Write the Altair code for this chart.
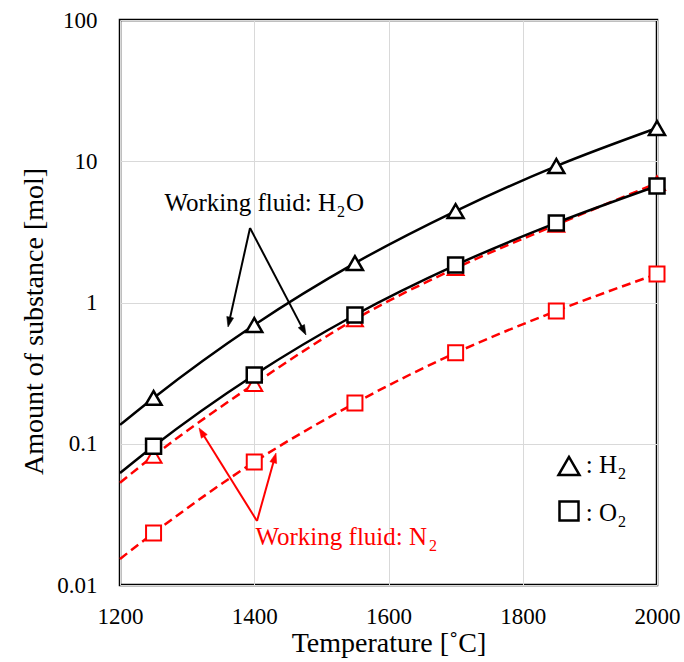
import math
import altair as alt
import pandas as pd

# ---------------- data ----------------
line_temps = [1200, 1250, 1400, 1550, 1700, 1850, 2000]
marker_temps = [1250, 1400, 1550, 1700, 1850, 2000]

h2o_h2 = [0.136, 0.211, 0.693, 1.90, 4.44, 9.25, 17.2]     # working fluid H2O, H2
h2o_o2 = [0.062, 0.096, 0.307, 0.816, 1.84, 3.66, 6.68]    # working fluid H2O, O2
n2_h2 = [0.053, 0.082, 0.265, 0.76, 1.75, 3.55, 7.0]       # working fluid N2, H2
n2_o2 = [0.0153, 0.0233, 0.0743, 0.194, 0.44, 0.871, 1.59]  # working fluid N2, O2

x_ticks = [1200, 1400, 1600, 1800, 2000]
y_ticks = [0.01, 0.1, 1, 10, 100]

# annotation arrows: apex -> tips (data coordinates)
black_apex = (1393.7, 3.37)
black_tips = [(1360.9, 0.671), (1477.1, 0.589)]
red_apex = (1404.1, 0.0284)
red_tips = [(1317.7, 0.1294), (1432.4, 0.086)]

RED = "#ff0000"
BLACK = "#000000"
FONT = "'Liberation Serif', 'Times New Roman', Tinos, 'DejaVu Serif', serif"
W, H = 537, 565
XDOM = [1200, 2000]
YDOM = [0.01, 100]


def X(field="T"):
    return alt.X(f"{field}:Q", scale=alt.Scale(domain=XDOM, nice=False, zero=False),
                 axis=alt.Axis(values=x_ticks, format="d", title="Temperature [˚C]", grid=True,
                               gridColor="#d9d9d9", gridWidth=1, ticks=False, tickSize=0,
                               domain=False, labelPadding=38, labelBaseline="alphabetic",
                               labelFlush=False, labelOverlap=False, titleY=58,
                               titleBaseline="middle", labelFont=FONT, titleFont=FONT))


def Y(field="v"):
    return alt.Y(f"{field}:Q", scale=alt.Scale(type="log", domain=YDOM, nice=False),
                 axis=alt.Axis(values=y_ticks, format="~g", title="Amount of substance [mol]",
                               grid=True, gridColor="#d9d9d9", gridWidth=1, ticks=False,
                               tickSize=0, domain=False, labelPadding=23,
                               labelBaseline="middle", labelFlush=False, labelOverlap=False,
                               titleX=-86, titleY=301, titleAlign="center",
                               titleBaseline="middle", labelFont=FONT, titleFont=FONT))


def line_df(vals, name):
    return pd.DataFrame({"T": line_temps, "v": vals, "series": name})


def marker_df(vals, name):
    return pd.DataFrame({"T": marker_temps, "v": vals[1:], "series": name})


red_lines = pd.concat([line_df(n2_h2, "N2-H2"), line_df(n2_o2, "N2-O2")])
black_lines = pd.concat([line_df(h2o_h2, "H2O-H2"), line_df(h2o_o2, "H2O-O2")])

red_line_layer = alt.Chart(red_lines).mark_line(
    color=RED, strokeWidth=2.5, strokeDash=[9, 5], interpolate="monotone"
).encode(x=X(), y=Y(), detail="series:N")

black_line_layer = alt.Chart(black_lines).mark_line(
    color=BLACK, strokeWidth=2.5, interpolate="monotone"
).encode(x=X(), y=Y(), detail="series:N")


def markers(vals, name, shape, size, color, sw):
    return alt.Chart(marker_df(vals, name)).mark_point(
        shape=shape, size=size, filled=True, fill="white", stroke=color,
        strokeWidth=sw, opacity=1
    ).encode(x=X(), y=Y())


red_tri = markers(n2_h2, "N2-H2", "triangle-up", 256, RED, 2)
red_sq = markers(n2_o2, "N2-O2", "square", 225, RED, 2)
black_tri = markers(h2o_h2, "H2O-H2", "triangle-up", 256, BLACK, 2.5)
black_sq = markers(h2o_o2, "H2O-O2", "square", 225, BLACK, 2.5)


# ---------------- arrows ----------------
def to_px(T, v):
    return ((T - XDOM[0]) / (XDOM[1] - XDOM[0]) * W,
            (math.log10(YDOM[1]) - math.log10(v)) / 4 * H)


def from_px(px, py):
    return (XDOM[0] + px / W * (XDOM[1] - XDOM[0]),
            10 ** (math.log10(YDOM[1]) - py / H * 4))


def arrow_tables(apex, tips):
    segs, heads = [], []
    ax, ay = to_px(*apex)
    for tip in tips:
        tx, ty = to_px(*tip)
        dx, dy = tx - ax, ty - ay
        L = math.hypot(dx, dy)
        ex, ey = tx - dx / L * 6, ty - dy / L * 6
        eT, ev = from_px(ex, ey)
        segs.append({"T": apex[0], "v": apex[1], "T2": eT, "v2": ev})
        ang = math.degrees(math.atan2(dx, -dy)) % 360
        heads.append({"T": tip[0], "v": tip[1], "ang": ang})
    return pd.DataFrame(segs), pd.DataFrame(heads)


ARROW = "M0,0 L0.35,1 L-0.35,1 Z"


def arrow_layers(apex, tips, color):
    segs, heads = arrow_tables(apex, tips)
    r = alt.Chart(segs).mark_rule(color=color, strokeWidth=2).encode(
        x=X(), y=Y(), x2="T2:Q", y2="v2:Q")
    h = alt.Chart(heads).mark_point(
        shape=ARROW, size=400, filled=True, fill=color, stroke=color, strokeWidth=0.5,
        opacity=1
    ).encode(x=X(), y=Y(), angle=alt.Angle("ang:Q", scale=None))
    return [r, h]


# ---------------- texts ----------------
def txt(T, v, s, align, size, color, dx=0, dy=0):
    return alt.Chart(pd.DataFrame({"T": [T], "v": [v], "s": [s]})).mark_text(
        align=align, baseline="alphabetic", font=FONT, fontSize=size, color=color,
        dx=dx, dy=dy
    ).encode(x=X(), y=Y(), text="s:N")


h2o_anchor = (1521.8, 4.444)
n2_anchor = (1657.4, 0.0192)
leg_h2_anchor = (1940.4, 0.0621)
leg_o2_anchor = (1940.4, 0.02838)

texts = [
    txt(*h2o_anchor, "Working fluid: H", "right", 25, BLACK),
    txt(*h2o_anchor, "2", "left", 16, BLACK, dx=1, dy=6),
    txt(*h2o_anchor, "O", "left", 25, BLACK, dx=10),
    txt(*n2_anchor, "Working fluid: N", "right", 25, RED),
    txt(*n2_anchor, "2", "left", 16, RED, dx=2, dy=6),
    txt(*leg_h2_anchor, ": H", "right", 25, BLACK),
    txt(*leg_h2_anchor, "2", "left", 16, BLACK, dx=1, dy=6),
    txt(*leg_o2_anchor, ": O", "right", 25, BLACK),
    txt(*leg_o2_anchor, "2", "left", 16, BLACK, dx=1, dy=6),
]

leg_sym = pd.DataFrame({"T": [1868.9], "v": [0.0696]})
leg_sym2 = pd.DataFrame({"T": [1868.9], "v": [0.0334]})
leg_tri = alt.Chart(leg_sym).mark_point(shape="triangle-up", size=441, filled=True,
                                        fill="white", stroke=BLACK, strokeWidth=2.5,
                                        opacity=1).encode(x=X(), y=Y())
leg_sq = alt.Chart(leg_sym2).mark_point(shape="square", size=361, filled=True,
                                        fill="white", stroke=BLACK, strokeWidth=2.5,
                                        opacity=1).encode(x=X(), y=Y())

layers = [red_line_layer, red_tri, red_sq, black_line_layer, black_tri, black_sq]
layers += arrow_layers(black_apex, black_tips, BLACK)
layers += arrow_layers(red_apex, red_tips, RED)
layers += texts + [leg_tri, leg_sq]

chart = alt.layer(*layers).properties(
    width=W, height=H,
    autosize=alt.AutoSizeParams(type="none"),
    padding={"left": 120, "top": 20, "right": 27, "bottom": 77},
    background="white",
).configure_view(
    stroke=BLACK, strokeWidth=2.5
).configure_axis(
    labelFont=FONT, labelFontSize=23, labelColor=BLACK,
    titleFont=FONT, titleFontSize=28, titleFontWeight="normal", titleColor=BLACK,
).configure_text(font=FONT)

chart.save("out.html", embed_options={"renderer": "svg", "actions": False})
